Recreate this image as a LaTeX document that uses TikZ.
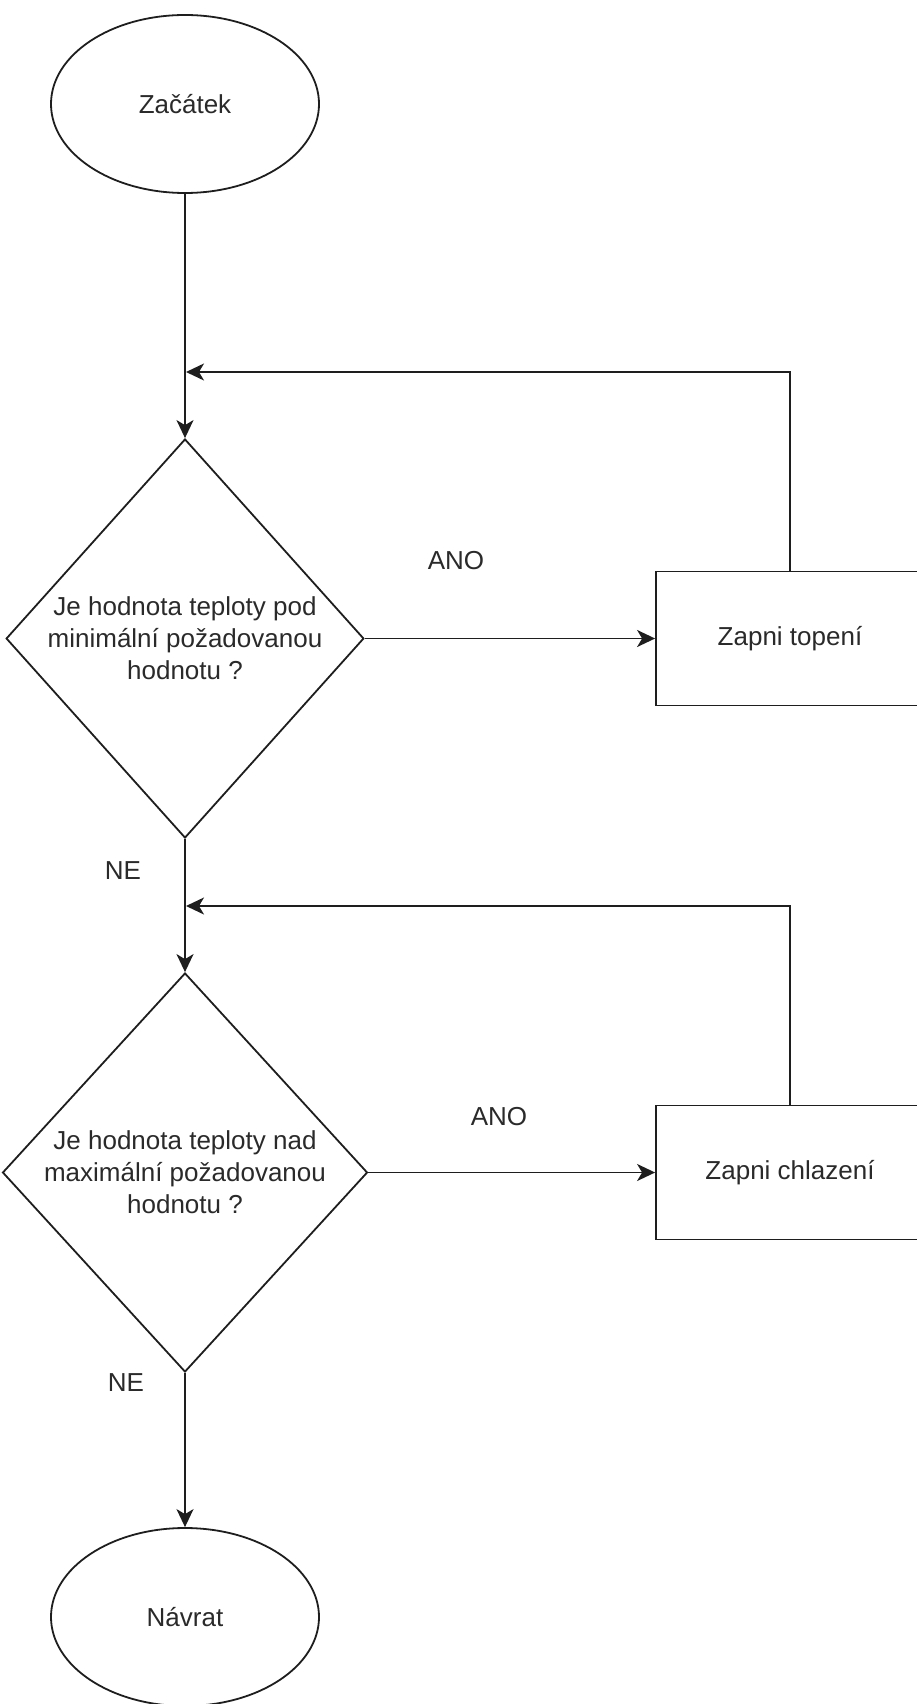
\documentclass[tikz,border=0pt]{standalone}
\usepackage{fontspec}
\setmainfont{Liberation Sans}
\usetikzlibrary{shapes.geometric,arrows.meta}
\definecolor{ink}{HTML}{1E1E1E}
\definecolor{txt}{HTML}{2A2A2A}
\begin{document}
\begin{tikzpicture}[x=1pt,y=-1pt,
  every node/.style={text=txt,font=\fontsize{26}{32}\selectfont,inner sep=0pt},
  terminal/.style={draw=ink,line width=1.8pt,ellipse,minimum width=268pt,minimum height=178pt},
  decision/.style={draw=ink,line width=1.8pt,diamond,minimum width=343pt,minimum height=399pt,align=center},
  action/.style={draw=ink,line width=1.8pt,rectangle,minimum width=268pt,minimum height=134pt},
  flow/.style={draw=ink,line width=1.8pt,-{Stealth[length=18pt,width=17pt,inset=5pt]}},
  lbl/.style={font=\fontsize{26}{32}\selectfont}]
\useasboundingbox (0,0) rectangle (916,1704);

% nodes
\node[terminal] (start) at (185,104) {Začátek};
\node[decision] (d1) at (185,638.5) {Je hodnota teploty pod\\minimální požadovanou\\hodnotu ?};
\node[action] (b1) at (790,638.5) {Zapni topení};
\node[decision] (d2) at (185,1172.5) {Je hodnota teploty nad\\maximální požadovanou\\hodnotu ?};
\node[action] (b2) at (790,1172.5) {Zapni chlazení};
\node[terminal] (end) at (185,1617) {Návrat};

% junctions where the loops rejoin the main line
\coordinate (j1) at (186,372);
\coordinate (j2) at (186,906);

% connectors
\draw[flow] (start.south) -- (d1.north);
\draw[flow] (d1.east) -- (b1.west);
\draw[flow] (b1.north) |- (j1);
\draw[flow] (d1.south) -- (d2.north);
\draw[flow] (d2.east) -- (b2.west);
\draw[flow] (b2.north) |- (j2);
\draw[flow] (d2.south) -- (end.north);

% branch labels
\node[lbl] (ano1) at (456,561) {ANO};
\node[lbl] (ne1) at (123,871) {NE};
\node[lbl] (ano2) at (499,1117) {ANO};
\node[lbl] (ne2) at (126,1383) {NE};
\end{tikzpicture}
\end{document}
